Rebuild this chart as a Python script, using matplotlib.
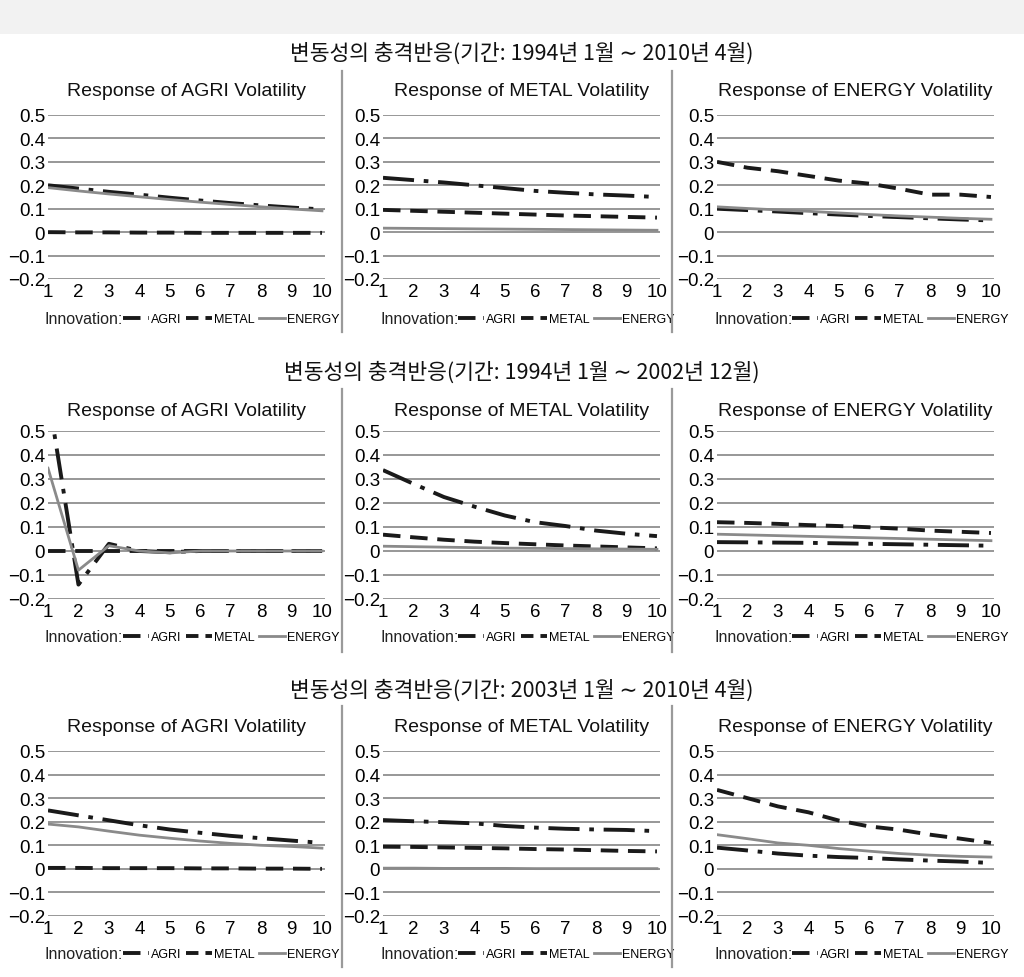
import matplotlib
matplotlib.use("Agg")
import matplotlib.pyplot as plt
from matplotlib.lines import Line2D
from matplotlib.patches import Rectangle

# ---------------- data ----------------
horizon = [1, 2, 3, 4, 5, 6, 7, 8, 9, 10]
innovations = ["AGRI", "METAL", "ENERGY"]
responses = ["AGRI", "METAL", "ENERGY"]
section_titles = [
    "변동성의 충격반응(기간: 1994년 1월 ∼ 2010년 4월)",
    "변동성의 충격반응(기간: 1994년 1월 ∼ 2002년 12월)",
    "변동성의 충격반응(기간: 2003년 1월 ∼ 2010년 4월)",
]
ytick_vals = [-0.2, -0.1, 0.0, 0.1, 0.2, 0.3, 0.4, 0.5]
ytick_labels = ["\u22120.2", "\u22120.1", "0", "0.1", "0.2", "0.3", "0.4", "0.5"]

# Period 1: 1994.1 - 2010.4
p1_agri_agri = [0.200, 0.186, 0.172, 0.160, 0.147, 0.135, 0.124, 0.114, 0.105, 0.097]
p1_agri_metal = [0.000, -0.001, -0.001, -0.002, -0.002, -0.003, -0.003, -0.003, -0.003, -0.003]
p1_agri_energy = [0.190, 0.176, 0.163, 0.151, 0.139, 0.128, 0.118, 0.108, 0.099, 0.091]
p1_metal_agri = [0.232, 0.222, 0.212, 0.200, 0.188, 0.176, 0.168, 0.161, 0.156, 0.150]
p1_metal_metal = [0.095, 0.091, 0.087, 0.083, 0.079, 0.075, 0.071, 0.068, 0.065, 0.062]
p1_metal_energy = [0.017, 0.016, 0.015, 0.014, 0.013, 0.012, 0.011, 0.010, 0.009, 0.008]
p1_energy_agri = [0.100, 0.094, 0.088, 0.081, 0.075, 0.069, 0.064, 0.059, 0.054, 0.050]
p1_energy_metal = [0.300, 0.275, 0.260, 0.240, 0.220, 0.207, 0.185, 0.160, 0.160, 0.150]
p1_energy_energy = [0.108, 0.101, 0.095, 0.089, 0.082, 0.075, 0.069, 0.064, 0.059, 0.055]

# Period 2: 1994.1 - 2002.12
p2_agri_agri = [0.654, -0.140, 0.030, 0.000, -0.005, 0.000, 0.000, 0.000, 0.000, 0.000]
p2_agri_metal = [0.000, 0.000, 0.000, 0.000, 0.000, 0.000, 0.000, 0.000, 0.000, 0.000]
p2_agri_energy = [0.345, -0.080, 0.022, 0.000, -0.008, 0.000, 0.000, 0.000, 0.000, 0.000]
p2_metal_agri = [0.337, 0.280, 0.225, 0.185, 0.148, 0.120, 0.104, 0.085, 0.072, 0.062]
p2_metal_metal = [0.068, 0.057, 0.047, 0.039, 0.033, 0.028, 0.023, 0.019, 0.015, 0.011]
p2_metal_energy = [0.020, 0.018, 0.016, 0.014, 0.012, 0.011, 0.010, 0.009, 0.008, 0.007]
p2_energy_agri = [0.037, 0.036, 0.035, 0.034, 0.032, 0.030, 0.028, 0.026, 0.024, 0.022]
p2_energy_metal = [0.120, 0.117, 0.113, 0.108, 0.104, 0.099, 0.093, 0.085, 0.080, 0.075]
p2_energy_energy = [0.070, 0.067, 0.064, 0.061, 0.058, 0.055, 0.052, 0.049, 0.046, 0.043]

# Period 3: 2003.1 - 2010.4
p3_agri_agri = [0.248, 0.227, 0.206, 0.185, 0.167, 0.153, 0.140, 0.130, 0.120, 0.110]
p3_agri_metal = [0.004, 0.004, 0.003, 0.003, 0.003, 0.002, 0.002, 0.001, 0.001, 0.000]
p3_agri_energy = [0.190, 0.178, 0.160, 0.143, 0.130, 0.118, 0.108, 0.100, 0.095, 0.088]
p3_metal_agri = [0.207, 0.202, 0.198, 0.193, 0.182, 0.175, 0.170, 0.167, 0.165, 0.160]
p3_metal_metal = [0.094, 0.093, 0.091, 0.089, 0.087, 0.084, 0.082, 0.079, 0.076, 0.074]
p3_metal_energy = [0.003, 0.003, 0.002, 0.002, 0.002, 0.001, 0.001, 0.001, 0.001, 0.001]
p3_energy_agri = [0.090, 0.078, 0.065, 0.056, 0.050, 0.046, 0.040, 0.035, 0.031, 0.025]
p3_energy_metal = [0.335, 0.300, 0.265, 0.240, 0.205, 0.180, 0.166, 0.145, 0.128, 0.110]
p3_energy_energy = [0.145, 0.128, 0.110, 0.100, 0.086, 0.075, 0.065, 0.058, 0.053, 0.050]

data = [
    [[p1_agri_agri, p1_agri_metal, p1_agri_energy],
     [p1_metal_agri, p1_metal_metal, p1_metal_energy],
     [p1_energy_agri, p1_energy_metal, p1_energy_energy]],
    [[p2_agri_agri, p2_agri_metal, p2_agri_energy],
     [p2_metal_agri, p2_metal_metal, p2_metal_energy],
     [p2_energy_agri, p2_energy_metal, p2_energy_energy]],
    [[p3_agri_agri, p3_agri_metal, p3_agri_energy],
     [p3_metal_agri, p3_metal_metal, p3_metal_energy],
     [p3_energy_agri, p3_energy_metal, p3_energy_energy]],
]

# ---------------- styling / layout ----------------
W, H = 1024, 978
fig = plt.figure(figsize=(W / 100, H / 100), dpi=100)
fig.patch.set_facecolor("white")

def fx(px):
    return px / W

def fy(py):
    return 1 - py / H

# grey band at top
fig.patches.append(Rectangle((0, fy(35)), 1, 1 - fy(35), transform=fig.transFigure,
                             facecolor="#f2f2f2", edgecolor="none", zorder=0))

KFONT = ["Noto Sans CJK KR", "DejaVu Sans"]
EFONT = ["Liberation Sans", "DejaVu Sans"]

styles = [
    dict(color="#1a1a1a", lw=2.8, dashes=(8, 2.5, 1.2, 2.5)),   # AGRI: dash-dot
    dict(color="#1a1a1a", lw=2.8, dashes=(4.5, 2.5)),           # METAL: dashed
    dict(color="#8a8a8a", lw=2.0, linestyle="-"),               # ENERGY: solid grey
]
legend_styles = [
    dict(color="#1a1a1a", lw=2.8, dashes=(4.5, 2.0, 1.0, 2.0)),
    dict(color="#1a1a1a", lw=2.8, dashes=(3.2, 1.8)),
    dict(color="#8a8a8a", lw=2.0, linestyle="-"),
]

row_px = [(116, 280), (432, 600), (752, 917)]      # (top=0.5, bottom=-0.2)
col_left = [48, 383, 717]
ax_w = 277
title_y = [54, 373, 691]
ptitle_y = [91, 411, 728]
legend_y = [320, 638, 955]
sep_x = [342, 672]
sep_span = [(72, 333), (390, 653), (707, 968)]

for r in range(3):
    top, bot = row_px[r]
    fig.text(fx(522), fy(title_y[r]), section_titles[r], ha="center", va="center",
             fontsize=15.5, family=KFONT, color="#111111")
    for sx in sep_x:
        fig.add_artist(Line2D([fx(sx), fx(sx)], [fy(sep_span[r][0]), fy(sep_span[r][1])],
                              transform=fig.transFigure, color="#9a9a9a", lw=1.6))
    for c in range(3):
        left = col_left[c]
        ax = fig.add_axes([fx(left), fy(bot), fx(ax_w), (bot - top) / H])
        ax.set_xlim(1, 10.1)
        ax.set_ylim(-0.2, 0.5)
        for s in ax.spines.values():
            s.set_visible(False)
        ax.set_yticks(ytick_vals)
        ax.set_yticklabels(ytick_labels, family=EFONT, fontsize=13.5)
        ax.set_xticks(horizon)
        ax.set_xticklabels([str(h) for h in horizon], family=EFONT, fontsize=13.5)
        ax.tick_params(length=0, pad=2, axis="y")
        ax.tick_params(length=0, pad=3, axis="x")
        ax.grid(axis="y", color="#8f8f8f", lw=1.3)
        ax.set_axisbelow(True)
        for k in range(3):
            ax.plot(horizon, data[r][c][k], label=innovations[k], **styles[k])
        fig.text(fx(left + ax_w / 2), fy(ptitle_y[r]), f"Response of {responses[c]} Volatility",
                 ha="center", va="center", fontsize=14, family=EFONT, color="#111111")
        # legend
        fig.text(fx(left - 3), fy(legend_y[r]), "Innovation:", ha="left", va="center",
                 fontsize=11.5, family=EFONT, color="#222222")
        leg_handles = [Line2D([], [], **legend_styles[k]) for k in range(3)]
        ax.legend(handles=leg_handles, labels=innovations, loc="center left",
                  bbox_to_anchor=(fx(left + 75), fy(legend_y[r])),
                  bbox_transform=fig.transFigure, ncol=3, frameon=False,
                  handlelength=2.1, handletextpad=0.15, columnspacing=0.35,
                  borderpad=0, borderaxespad=0, prop={"family": EFONT, "size": 9})

fig.savefig("out.png", dpi=100)
